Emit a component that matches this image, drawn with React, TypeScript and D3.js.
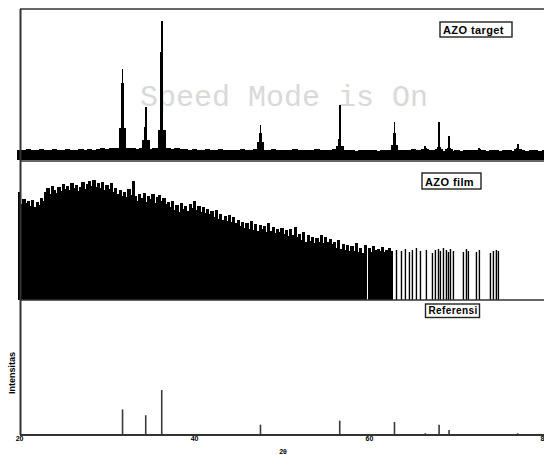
import React from 'react';
import * as d3 from 'd3';

const W = 544
const H = 455

// ZnO reference card (2theta, relative intensity)
const refAngles = [31.77, 34.42, 36.25, 47.54, 56.6, 62.86, 66.38, 67.96, 69.1, 72.56, 76.95]
const refIntensity = [57, 44, 100, 23, 32, 29, 4, 23, 11, 2, 4]

// AZO target peaks: top of spike, shoulder and foot levels
const targetPeakAngles = [31.77, 34.42, 36.25, 47.54, 56.6, 62.86, 66.38, 67.96, 69.1, 72.56, 76.95]
const targetPeakTop = [91, 53, 139, 35, 55, 38, 14, 38, 24, 12, 16]
const targetPeakMid = [77, 33, 108, 27, 21, 27, 12, 13, 12, 11, 12]
const targetPeakFoot = [32, 20, 30, 18, 14, 15, 11, 11, 11, 10, 11]
// target background, every 0.5 deg from 20 to 80
const targetBase = [
  10, 10.5, 11, 10, 10, 11, 10, 10.5, 11, 10,
  10, 11, 10, 10.5, 11, 10, 11, 10, 11, 12,
  11, 12, 12, 11, 12, 12, 12, 11, 12, 12,
  11, 12, 12, 11, 12, 11, 12, 11, 11, 10.5,
  11, 10.5, 10, 11, 10, 10.5, 11, 10, 10.5, 10,
  10, 11, 10, 10.5, 11, 10, 10, 10.5, 11, 10,
  10, 10.5, 10, 11, 10, 10, 10.5, 10, 11, 10,
  10, 10.5, 11, 10, 10, 10.5, 10, 9.5, 10, 10.5,
  10, 10, 9.5, 10, 10, 10.5, 10, 10, 10.5, 10,
  11, 10, 10, 10.5, 10, 10, 10.5, 9.5, 10, 9.5,
  10, 9.5, 10, 10.5, 10, 9.5, 10, 9.5, 10, 10,
  9.5, 10, 10, 9.5, 10, 10, 9.5, 10, 10, 9.5,
  10
]

// AZO film, every 0.25 deg from 20 to 62.5
const filmCounts = [
  108, 96, 101, 97, 99, 94, 100, 93, 98, 95, 102, 99,
  108, 112, 106, 114, 110, 107, 113, 109, 116, 111, 114, 110,
  117, 112, 115, 109, 113, 118, 111, 116, 119, 114, 120, 113,
  117, 112, 118, 110, 115, 111, 117, 108, 112, 106, 110, 104,
  108, 103, 111, 105, 119, 104, 99, 106, 102, 107, 98, 104,
  101, 106, 97, 103, 105, 99, 102, 96, 98, 93, 99, 90,
  95, 88, 97, 91, 94, 89, 96, 92, 99, 90, 94, 88,
  93, 87, 91, 86, 89, 83, 90, 81, 86, 80, 84, 79,
  85, 78, 83, 77, 80, 74, 78, 72, 77, 71, 79, 70,
  76, 69, 75, 71, 74, 68, 77, 69, 73, 67, 71, 68,
  72, 66, 70, 64, 71, 65, 73, 63, 66, 60, 68, 58,
  65, 59, 63, 57, 62, 58, 65, 57, 63, 58, 61, 56,
  58, 52, 60, 51, 56, 50, 55, 49, 54, 49, 57, 48,
  52, 47, 55, 0, 52, 48, 54, 50, 51, 49, 53, 48,
  50, 52, 49
]
// isolated film lines above 63 deg
const filmLineAngles = [63.09, 63.66, 64.11, 64.57, 64.91, 65.37, 65.83, 66.51, 67.2, 67.54, 67.89, 68.11, 68.46,
  68.8, 69.03, 69.26, 69.6, 70.74, 71.09, 71.31, 72.23, 72.57, 73.83, 74.17, 74.51, 74.74]
const filmLineCounts = [50, 49, 51, 48, 50, 52, 49, 50, 47, 50, 51, 49, 52,
  50, 48, 51, 49, 48, 51, 49, 48, 50, 47, 49, 50, 49]

const xTicks = [20, 40, 60, 80]
const labels = ['AZO target', 'AZO film', 'Referensi']

export default function App() {
  const topY = 9, sep1 = 161, sep2 = 300, axisY = 435
  const x = d3.scaleLinear().domain([20, 80]).range([19.6, 544.4])
  const yT = d3.scaleLinear().domain([0, 160 - topY]).range([160, topY])
  const yF = d3.scaleLinear().domain([0, sep2 - sep1]).range([sep2, sep1])
  const yR = d3.scaleLinear().domain([0, 300]).range([axisY, sep2])

  const step = 0.25
  const px = x(20 + step) - x(20)

  const peakRect = (a, w, v, k) => (
    <rect key={k} x={x(a - w / 2)} width={x(20 + w) - x(20)} y={yT(v)} height={160 - yT(v)} fill="#000" />
  )

  return (
    <svg width={W} height={H} style={{ position: 'absolute', left: 0, top: 0, background: '#fff' }}
      fontFamily="'Liberation Sans', Arial, sans-serif">
      {/* watermark */}
      <text x={140} y={106} fontFamily="'Liberation Mono', 'Courier New', monospace" fontSize={30} fill="#d9d9d9">
        Speed Mode is On
      </text>

      {/* AZO target */}
      <g shapeRendering="crispEdges">
        {targetBase.map((v, i) => {
          const a = 20 + i * 0.5
          return <rect key={'b' + i} x={x(a - 0.25) - 0.5} width={x(20.5) - x(20) + 1} y={yT(v)} height={160 - yT(v)} fill="#000" />
        })}
        {targetPeakAngles.map((a, i) => (
          <g key={'p' + i}>
            {peakRect(a, 0.9, targetPeakFoot[i], 'f')}
            {peakRect(a, 0.4, targetPeakMid[i], 'm')}
            {peakRect(a, 0.2, targetPeakTop[i], 't')}
          </g>
        ))}
      </g>

      {/* AZO film */}
      <g shapeRendering="crispEdges">
        {filmCounts.map((v, i) => {
          const a = 20 + i * step
          if (!v) return null
          return <rect key={'f' + i} x={x(a) - px / 2 - 0.5} width={px + 1} y={yF(v)} height={sep2 - yF(v)} fill="#000" />
        })}
      </g>
      <g>
        {filmLineAngles.map((a, i) => (
          <line key={'l' + i} x1={x(a)} x2={x(a)} y1={sep2} y2={yF(filmLineCounts[i])} stroke="#000" strokeWidth={1.4} />
        ))}
      </g>

      {/* reference sticks */}
      <g>
        {refAngles.map((a, i) => (
          <line key={'r' + i} x1={x(a)} x2={x(a)} y1={axisY} y2={yR(refIntensity[i])} stroke="#3a3a3a" strokeWidth={1.6} />
        ))}
      </g>

      {/* frame */}
      <g stroke="#333" fill="none">
        <line x1={20} x2={W} y1={topY} y2={topY} strokeWidth={1.5} />
        <line x1={20} x2={W} y1={sep1} y2={sep1} strokeWidth={1.5} />
        <line x1={20} x2={W} y1={sep2} y2={sep2} strokeWidth={1.5} />
        <line x1={20} x2={W} y1={axisY} y2={axisY} strokeWidth={2} />
        <line x1={20.5} x2={20.5} y1={topY} y2={axisY} strokeWidth={2} />
      </g>

      {/* legend boxes */}
      {[
        { t: labels[0], x: 440, y: 22, w: 72, h: 15, fs: 11 },
        { t: labels[1], x: 422, y: 173, w: 59, h: 16, fs: 11 },
        { t: labels[2], x: 425.5, y: 304, w: 54, h: 13.5, fs: 10 }
      ].map((b, i) => (
        <g key={'lg' + i}>
          <rect x={b.x} y={b.y} width={b.w} height={b.h} fill="#fff" stroke="#222" strokeWidth={1.4} />
          <text x={b.x + 3} y={b.y + b.h - 3.5} fontSize={b.fs} fontWeight="bold" letterSpacing={0.4} fill="#000">{b.t}</text>
        </g>
      ))}

      {/* x axis labels */}
      {xTicks.map(t => (
        <text key={t} x={x(t)} y={441} fontSize={7} fontWeight="bold" textAnchor="middle" fill="#000">{t}</text>
      ))}
      <text x={283} y={454} fontSize={7} fontWeight="bold" textAnchor="middle" fill="#000">2θ</text>
      <text transform="translate(15,373) rotate(-90)" fontSize={9} fontWeight="bold" textAnchor="middle" fill="#000">Intensitas</text>
    </svg>
  )
}
